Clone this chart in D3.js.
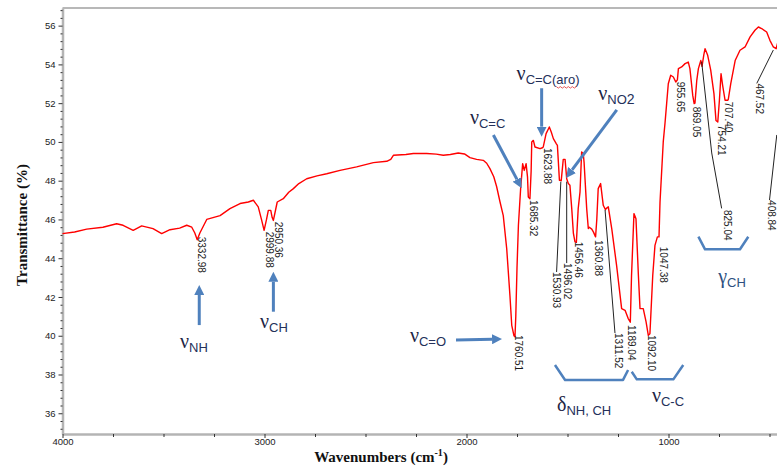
<!DOCTYPE html>
<html><head><meta charset="utf-8">
<script src="https://cdn.jsdelivr.net/npm/d3@7"></script>
<style>body{margin:0;background:#fff} svg{display:block}</style>
</head><body>
<svg id="c" width="777" height="466"></svg>
<script>
// ---- data ----
const wavenumbers = [4000,3940,3880,3800,3732,3700,3650,3608,3552,3509,3468,3420,3385,3360,3345,3333,3320,3286,3220,3171,3121,3080,3055,3031,3015,3002,2990,2981,2969,2962,2956,2945,2937,2907,2880,2857,2830,2791,2740,2692,2626,2544,2461,2395,2375,2362,2300,2263,2197,2150,2115,2080,2041,2010,1983,1950,1917,1900,1884,1865,1851,1834,1818,1801,1785,1776,1765,1760,1756,1750,1743,1732,1722,1714,1705,1698,1694,1686,1680,1677,1669,1661,1636,1624,1620,1606,1590,1580,1570,1555,1550,1540,1531,1521,1512,1504,1496,1488,1479,1471,1463,1456,1447,1438,1430,1422,1418,1405,1397,1392,1380,1372,1361,1355,1348,1336,1323,1312,1309,1298,1281,1257,1232,1215,1200,1189,1183,1171,1161,1149,1141,1125,1111,1100,1092,1078,1067,1055,1047,1042,1026,1017,1009,1001,989,976,964,956,951,935,918,902,894,880,873,869,860,852,840,834,825,819,806,791,775,765,756,748,740,732,720,707,704,692,670,646,621,596,572,555,539,514,498,481,467,460,450,430,409];
const transmittance = [45.27,45.35,45.50,45.60,45.78,45.70,45.44,45.67,45.53,45.27,45.47,45.55,45.70,45.60,45.30,44.95,45.30,46.00,46.20,46.56,46.82,46.90,46.99,46.65,46.00,45.44,46.00,46.47,46.47,46.10,45.95,46.50,46.90,47.07,47.40,47.59,47.85,48.10,48.25,48.36,48.53,48.71,48.93,49.00,49.10,49.31,49.35,49.40,49.40,49.37,49.31,49.35,49.43,49.38,49.19,49.10,49.05,48.90,48.62,48.20,47.70,46.90,46.20,44.50,42.08,40.54,40.00,39.95,41.00,43.50,45.70,47.59,48.88,48.53,48.88,48.20,47.16,47.07,48.50,50.00,50.08,49.74,49.65,49.70,49.74,50.43,50.77,50.50,50.17,49.90,49.82,48.02,48.00,49.10,49.10,48.10,47.85,47.76,46.56,45.30,44.84,44.82,46.56,47.42,49.48,49.40,48.96,46.56,45.53,45.60,45.50,45.36,45.10,46.00,47.59,47.85,46.73,46.50,46.56,46.65,45.53,43.63,41.40,41.31,40.90,40.70,43.11,46.30,46.04,43.11,41.40,41.40,40.71,40.02,40.10,43.11,44.66,45.10,45.10,46.90,50.00,51.00,52.00,53.00,53.44,53.35,53.09,53.20,53.78,53.87,54.04,54.12,53.78,52.40,51.98,52.00,53.18,53.78,54.20,53.90,54.50,54.81,54.47,53.70,52.49,51.11,51.03,52.15,53.52,52.92,52.15,52.15,52.20,53.00,54.20,54.73,54.90,55.42,55.76,55.93,55.85,55.67,55.24,54.90,54.81,55.10,53.00,49.00,46.50];

const xTicks = [4000,3000,2000,1000];
const xMinorTicks = [3750,3500,3250,2750,2500,2250,1750,1500,1250,750,500];
const yTicks = [36,38,40,42,44,46,48,50,52,54,56];

// peak labels: text and label top anchor (wavenumber, transmittance)
const peakLabels = ["3332.98","2999.88","2950.36","1760.51","1685.32","1623.88","1530.93","1496.02","1456.46","1360.88","1311.52","1189.04","1092.10","1047.38","955.65","869.05","825.04","754.21","707.40","467.52","408.84"];
const peakLabelWn = [3311,2976,2932,1744,1669,1599,1554,1497,1443,1344,1245,1182,1083,1026,940,859,709,737,704,547,490];
const peakLabelT  = [45.11,45.37,45.88,40.04,47.0,49.69,43.29,43.75,44.85,44.94,40.14,40.55,40.04,44.59,53.11,51.82,46.49,50.87,52.07,53.02,47.0];

// leader lines (wavenumber, transmittance vertices)
const leaderWn = [[1533,1554],[1504,1504],[1314,1265],[836,786,737],[481,563],[464,500]];
const leaderT  = [[47.95,43.29],[47.95,43.75],[46.49,40.14],[54.14,49.43,46.57],[54.74,53.02],[50.36,47.0]];

// band assignment arrows: tail -> tip
const arrowWn = [[3323,3323],[2956,2956],[2052,1824],[1867,1727],[1628,1628],[1256,1507]];
const arrowT  = [[40.55,42.62],[41.24,43.30],[39.78,39.83],[50.36,47.61],[52.77,50.27],[51.65,48.14]];

// band assignment text
const bandSym = ["ν","ν","ν","ν","ν","ν","δ","ν","γ"];
const bandSub = ["NH","CH","C=O","C=C","C=C(aro)","NO","NH, CH","C-C","CH"];
const bandSub2 = ["","","","","","2","","",""];
const bandWn = [3418,3022,2280,1983,1752,1348,1552,1082,754];
const bandT  = [39.37,40.38,39.69,50.92,53.19,52.16,36.12,36.58,42.72];

// brackets
const bracketWn = [[1562,1512,1225,1200],[1182,1157,976,927],[852,819,646,605]];
const bracketT  = [[38.49,37.72,37.72,38.23],[38.14,37.75,37.75,38.49],[45.11,44.46,44.46,45.11]];

// ---- drawing ----
const svg = d3.select("#c");
const x = d3.scaleLinear().domain([4000, 400]).range([62.5, 789.7]);
const y = d3.scaleLinear().domain([34.93, 56.91]).range([434, 8]);
const blue = "#4f81bd";

// frame top
svg.append("line").attr("x1", x(4000)).attr("x2", 777).attr("y1", y.range()[1]).attr("y2", y.range()[1])
  .attr("stroke", "#b8b8b8").attr("stroke-width", 2);

// y axis
const gy = svg.append("g").attr("transform", `translate(${x(4000)},0)`)
  .call(d3.axisLeft(y).tickValues(yTicks).tickSize(4).tickSizeOuter(0).tickPadding(3).tickFormat(d3.format("d")));
const yMinor = d3.range(88, 143).map(i => i * 0.4).filter(v => Math.abs(v - Math.round(v / 2) * 2) > 0.01);
const gym = svg.append("g").attr("transform", `translate(${x(4000)},0)`)
  .call(d3.axisLeft(y).tickValues(yMinor).tickSize(2).tickSizeOuter(0).tickFormat(""));
gym.select(".domain").remove();

// x axis
const gx = svg.append("g").attr("transform", `translate(0,${y.range()[0]})`)
  .call(d3.axisBottom(x).tickValues(xTicks).tickSize(4).tickSizeOuter(0).tickPadding(0).tickFormat(d3.format("d")));
const gxm = svg.append("g").attr("transform", `translate(0,${y.range()[0]})`)
  .call(d3.axisBottom(x).tickValues(xMinorTicks).tickSize(3).tickSizeOuter(0).tickFormat(""));
gxm.select(".domain").remove();

[gx, gy].forEach(g => g.select(".domain").attr("stroke", "#b4b4b4").attr("stroke-width", 2.5));
[gx, gy, gxm, gym].forEach(g => g.selectAll(".tick line").attr("stroke", "#333"));
[gx, gy].forEach(g => g.selectAll(".tick text").attr("font-family", "Liberation Sans, Arial, sans-serif")
  .attr("font-size", "9.5px").attr("fill", "#222"));

// axis titles
svg.append("text").attr("x", 381).attr("y", 462).attr("text-anchor", "middle")
  .attr("font-family", "Liberation Serif, Times New Roman, serif").attr("font-weight", "bold").attr("font-size", "15px").attr("fill", "#111")
  .call(t => { t.append("tspan").text("Wavenumbers (cm"); t.append("tspan").attr("dy", -6).attr("font-size", "10px").text("-1"); t.append("tspan").attr("dy", 6).text(")"); });
svg.append("text").attr("transform", `translate(27,${225}) rotate(-90)`).attr("text-anchor", "middle")
  .attr("font-family", "Liberation Serif, Times New Roman, serif").attr("font-weight", "bold").attr("font-size", "15px").attr("fill", "#111")
  .text("Transmittance (%)");

// spectrum
const pts = wavenumbers.map((w, i) => [w, transmittance[i]]);
svg.append("path").datum(pts)
  .attr("d", d3.line().x(d => x(d[0])).y(d => y(d[1])))
  .attr("fill", "none").attr("stroke", "#ff0000").attr("stroke-width", 1.4).attr("stroke-linejoin", "round");

// leader lines
leaderWn.forEach((ws, i) => {
  const p = ws.map((w, j) => [x(w), y(leaderT[i][j])]);
  svg.append("path").attr("d", d3.line()(p)).attr("fill", "none").attr("stroke", "#222").attr("stroke-width", 1);
});

// peak labels
peakLabels.forEach((lab, i) => {
  svg.append("text")
    .attr("transform", `translate(${x(peakLabelWn[i])},${y(peakLabelT[i])}) rotate(90)`)
    .attr("dy", "0.36em")
    .attr("font-family", "Liberation Sans, Arial, sans-serif").attr("font-size", "10px").attr("fill", "#1a1a1a")
    .text(lab);
});

// arrows
const defs = svg.append("defs");
defs.append("marker").attr("id", "ah").attr("viewBox", "0 0 10 10").attr("refX", 0).attr("refY", 5)
  .attr("markerWidth", 10).attr("markerHeight", 10).attr("markerUnits", "userSpaceOnUse").attr("orient", "auto")
  .append("path").attr("d", "M0,0 L10,5 L0,10 z").attr("fill", blue);
arrowWn.forEach((ws, i) => {
  const x1 = x(ws[0]), y1 = y(arrowT[i][0]), x2 = x(ws[1]), y2 = y(arrowT[i][1]);
  const L = Math.hypot(x2 - x1, y2 - y1), k = (L - 10) / L;
  svg.append("line").attr("x1", x1).attr("y1", y1).attr("x2", x1 + (x2 - x1) * k).attr("y2", y1 + (y2 - y1) * k)
    .attr("stroke", blue).attr("stroke-width", 3).attr("marker-end", "url(#ah)");
});

// brackets
bracketWn.forEach((ws, i) => {
  const p = ws.map((w, j) => [x(w), y(bracketT[i][j])]);
  svg.append("path").attr("d", d3.line()(p)).attr("fill", "none").attr("stroke", blue).attr("stroke-width", 2.5).attr("stroke-linejoin", "round");
});

// band labels
bandSym.forEach((s, i) => {
  const col = s === "γ" ? "#2e4f80" : "#1c2444";
  const t = svg.append("text").attr("x", x(bandWn[i])).attr("y", y(bandT[i])).attr("fill", col);
  t.append("tspan").attr("font-family", "Liberation Serif, Times New Roman, serif").attr("font-size", "20px").text(s);
  t.append("tspan").attr("dy", 4).attr("font-family", "Liberation Sans, Arial, sans-serif").attr("font-size", "13px").attr("fill", s === "γ" ? col : "#24305a").text(bandSub[i]);
  if (bandSub2[i]) t.append("tspan").attr("dy", 0).attr("font-family", "Liberation Sans, Arial, sans-serif").attr("font-size", "14px").attr("fill", "#24305a").text(bandSub2[i]);
  if (bandSub[i].indexOf("aro") >= 0) {
    const sub = t.select("tspan:nth-child(2)").node();
    const n = bandSub[i].indexOf("aro");
    const start = sub.getStartPositionOfChar(n), end = sub.getEndPositionOfChar(n + 2);
    const yy = start.y + 2.5;
    let d = `M${start.x},${yy}`;
    for (let xx = start.x, k = 0; xx < end.x; xx += 2, k++) d += ` L${xx + 2},${yy + (k % 2 ? 0 : 1.5)}`;
    svg.append("path").attr("d", d).attr("fill", "none").attr("stroke", "#e03030").attr("stroke-width", 0.8);
  }
});
</script>
</body></html>
